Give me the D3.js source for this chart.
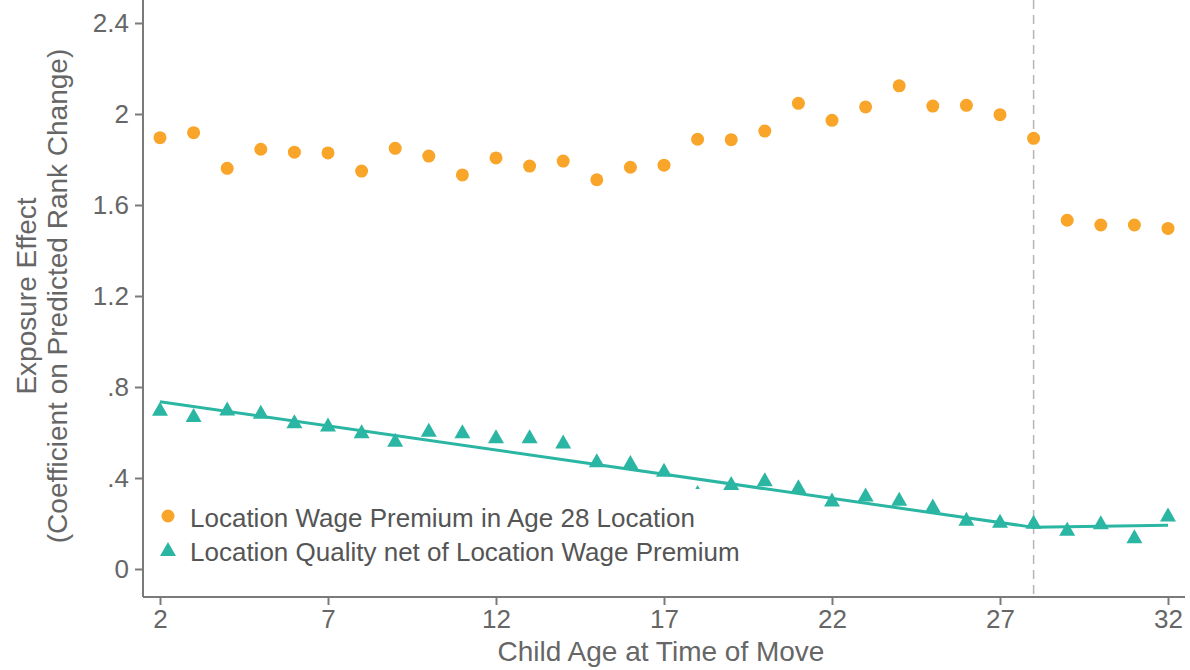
<!DOCTYPE html>
<html>
<head>
<meta charset="utf-8">
<script src="https://cdn.jsdelivr.net/npm/d3@7"></script>
<style>
  body { margin: 0; background: #fff; }
  text { font-family: "Liberation Sans", Arial, sans-serif; }
</style>
</head>
<body>
<div id="chart"></div>
<script>
// data
var ages = [2,3,4,5,6,7,8,9,10,11,12,13,14,15,16,17,18,19,20,21,22,23,24,25,26,27,28,29,30,31,32];
var wagePremium = [1.896,1.918,1.761,1.845,1.832,1.829,1.749,1.849,1.815,1.732,1.807,1.771,1.793,1.711,1.766,1.775,
                   1.889,1.887,1.925,2.047,1.972,2.031,2.124,2.035,2.038,1.997,1.893,1.533,1.512,1.512,1.497];
var qualityNet = [0.704,0.677,0.706,0.691,0.649,0.635,0.605,0.568,0.612,0.606,0.583,0.583,0.560,0.478,0.470,0.436,
                  0.338,0.378,0.395,0.364,0.305,0.327,0.309,0.279,0.221,0.212,0.208,0.177,0.206,0.144,0.240];
var fitAges = [2, 28, 32];
var fitValues = [0.735, 0.183, 0.192];
var cutoffAge = 28;
var xTicks = [2,7,12,17,22,27,32];
var yTicks = [0,0.4,0.8,1.2,1.6,2.0,2.4];
var yTickLabels = ["0",".4",".8","1.2","1.6","2","2.4"];
var legendNames = ["Location Wage Premium in Age 28 Location", "Location Quality net of Location Wage Premium"];

var width = 1190, height = 670;
var orange = "#f8a52a", teal = "#2bb6a3", axisColor = "#7a7a7a", textColor = "#666";

var svg = d3.select("#chart")
  .append("svg")
  .attr("width", width)
  .attr("height", height);

var x = d3.scaleLinear().domain([2, 32]).range([160, 1168]);
var y = d3.scaleLinear().domain([0, 2.4]).range([569, 23]);

var axisX0 = 143, axisY0 = 597;

// dashed cutoff line
svg.append("line")
  .attr("x1", x(cutoffAge)).attr("x2", x(cutoffAge))
  .attr("y1", 0).attr("y2", axisY0)
  .style("stroke", "#b5b5b5")
  .style("stroke-width", 1.5)
  .style("stroke-dasharray", "9,6");

// axes lines
svg.append("line")
  .attr("x1", axisX0).attr("x2", axisX0).attr("y1", 0).attr("y2", axisY0)
  .style("stroke", axisColor).style("stroke-width", 2);
svg.append("line")
  .attr("x1", axisX0).attr("x2", 1185).attr("y1", axisY0).attr("y2", axisY0)
  .style("stroke", axisColor).style("stroke-width", 2);

// y axis
var yAxis = svg.append("g")
  .attr("transform", "translate(" + axisX0 + ",0)")
  .call(d3.axisLeft(y).tickValues(yTicks).tickSize(8).tickPadding(6)
    .tickFormat(function(d, i){ return yTickLabels[i]; }));
yAxis.select(".domain").remove();
yAxis.selectAll("line").style("stroke", axisColor).style("stroke-width", 2);
yAxis.selectAll("text").style("font-size", "26px").style("fill", textColor);

// x axis
var xAxis = svg.append("g")
  .attr("transform", "translate(0," + axisY0 + ")")
  .call(d3.axisBottom(x).tickValues(xTicks).tickSize(8).tickPadding(5));
xAxis.select(".domain").remove();
xAxis.selectAll("line").style("stroke", axisColor).style("stroke-width", 2);
xAxis.selectAll("text").style("font-size", "26px").style("fill", textColor);

// axis titles
svg.append("text")
  .attr("x", x(17) - 3).attr("y", 661)
  .attr("text-anchor", "middle")
  .style("font-size", "28px").style("fill", textColor)
  .text("Child Age at Time of Move");

var yTitle = svg.append("text")
  .attr("transform", "translate(0,296) rotate(-90)")
  .attr("text-anchor", "middle")
  .style("font-size", "28px").style("fill", textColor);
yTitle.append("tspan").attr("x", 0).attr("y", 36).text("Exposure Effect");
yTitle.append("tspan").attr("x", 0).attr("y", 67).text("(Coefficient on Predicted Rank Change)");

// fitted line
var line = d3.line()
  .x(function(d){ return x(d[0]); })
  .y(function(d){ return y(d[1]); });
svg.append("path")
  .datum(d3.zip(fitAges, fitValues))
  .attr("d", line)
  .style("fill", "none")
  .style("stroke", teal)
  .style("stroke-width", 3);

// triangle with its box centred on the point
function triPath(w, h) {
  return "M0," + (-h/2) + "L" + (w/2) + "," + (h/2) + "L" + (-w/2) + "," + (h/2) + "Z";
}

// orange dots
svg.append("g")
  .selectAll("circle")
  .data(d3.zip(ages, wagePremium))
  .enter()
  .append("circle")
  .attr("cx", function(d){ return x(d[0]); })
  .attr("cy", function(d){ return y(d[1]); })
  .attr("r", 6.5)
  .style("fill", orange);

// teal triangles
svg.append("g")
  .selectAll("path")
  .data(d3.zip(ages, qualityNet))
  .enter()
  .append("path")
  .attr("d", triPath(16, 14))
  .attr("transform", function(d){ return "translate(" + x(d[0]) + "," + y(d[1]) + ")"; })
  .style("fill", teal);

// legend (white box covers what is below it)
var legend = svg.append("g");
legend.append("rect")
  .attr("x", 150).attr("y", 489).attr("width", 560).attr("height", 84)
  .style("fill", "#fff");
legend.append("circle").attr("cx", 168).attr("cy", 516).attr("r", 6.5).style("fill", orange);
legend.append("path").attr("d", triPath(16, 14))
  .attr("transform", "translate(168,549)").style("fill", teal);
legend.selectAll("text.leg")
  .data(legendNames)
  .enter()
  .append("text")
  .attr("class", "leg")
  .attr("x", 190)
  .attr("y", function(d, i){ return 527 + i * 34; })
  .style("font-size", "26px")
  .style("fill", "#555")
  .text(function(d){ return d; });
</script>
</body>
</html>
